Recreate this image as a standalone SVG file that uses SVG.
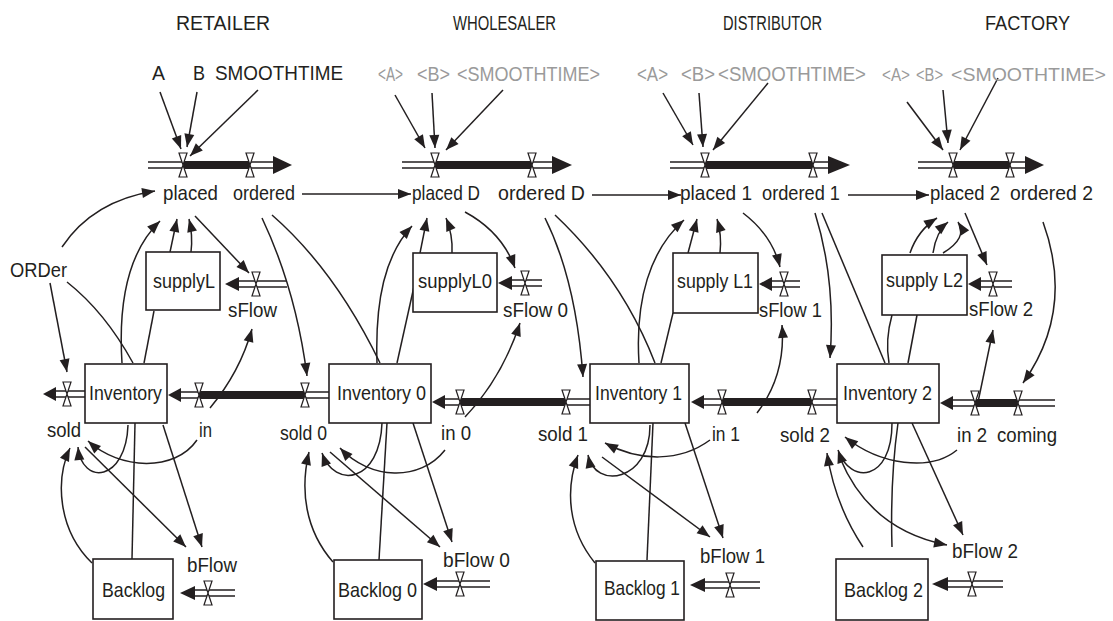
<svg xmlns="http://www.w3.org/2000/svg" xmlns:xlink="http://www.w3.org/1999/xlink" width="1113" height="621" viewBox="0 0 1113 621">
<style>
text{font-family:"Liberation Sans",Arial,sans-serif;font-size:21px;fill:#231f20}
.h{font-size:20px}
.g{fill:#9a9a9a}
.s{font-size:18px}
.box{fill:#fff;stroke:#231f20;stroke-width:1.6}
.pipe{fill:none;stroke:#231f20;stroke-width:1.4}
.thick{fill:none;stroke:#231f20;stroke-width:8}
.ph{fill:#231f20}
.c{fill:none;stroke:#231f20;stroke-width:1.5}
.a{marker-end:url(#ah)}
</style>
<defs>
<marker id="ah" markerUnits="userSpaceOnUse" markerWidth="14" markerHeight="12" refX="13" refY="5" orient="auto" overflow="visible">
<path d="M0,0 L13,5 L0,10 Z" fill="#231f20"/>
</marker>
<g id="valve"><path d="M-4,-12 L4,-12 L0,0 Z M-4,12 L4,12 L0,0 Z" fill="#fff" stroke="#231f20" stroke-width="1.2"/></g>
</defs>
<rect width="1113" height="621" fill="#fff"/>

<g id="headers">
<text class="h" x="176" y="30" textLength="94" lengthAdjust="spacingAndGlyphs">RETAILER</text>
<text class="h" x="453" y="30" textLength="103" lengthAdjust="spacingAndGlyphs">WHOLESALER</text>
<text class="h" x="723" y="30" textLength="99" lengthAdjust="spacingAndGlyphs">DISTRIBUTOR</text>
<text class="h" x="985" y="30" textLength="85" lengthAdjust="spacingAndGlyphs">FACTORY</text>
</g>

<!-- ================= CONNECTORS ================= -->
<g id="connectors">
<!-- retailer -->
<path class="c a" d="M160,92 L181,149"/>
<path class="c a" d="M197,92 L187,147"/>
<path class="c a" d="M258,90 L190,156"/>
<path class="c a" d="M62,247 C80,220 110,198 155,191"/>
<path class="c a" d="M50,283 L67,372"/>
<path class="c" d="M67,282 Q105,312 133,363"/>
<path class="c a" d="M122,363 C118,300 130,250 160,221"/>
<path class="c a" d="M170,252 L177,219"/>
<path class="c a" d="M191,252 Q193,235 189,219"/>
<path class="c" d="M154,311 L144,363"/>
<path class="c a" d="M195,216 L249,273"/>
<path class="c a" d="M210,408 Q240,372 252,329"/>
<path class="c a" d="M128,425 C126,482 82,486 78,447"/>
<path class="c a" d="M92,563 C58,530 55,480 70,448"/>
<path class="c a" d="M197,440 C175,472 120,470 88,441"/>
<path class="c a" d="M85,447 L186,547"/>
<path class="c a" d="M163,425 L202,547"/>
<path class="c" d="M132,559 L135,423"/>
<path class="c a" d="M262,218 Q296,290 307,376"/>
<path class="c" d="M272,215 Q335,270 380,363"/>
<path class="c a" d="M302,194 L411,194"/>
<!-- wholesaler -->
<path class="c a" d="M395,95 L425,148"/>
<path class="c a" d="M432,93 L435,148"/>
<path class="c a" d="M503,90 L446,150"/>
<path class="c a" d="M377,363 C375,300 385,255 412,226"/>
<path class="c a" d="M420,253 L427,218"/>
<path class="c a" d="M452,253 Q453,235 446,218"/>
<path class="c" d="M397,363 L415,282"/>
<path class="c a" d="M465,212 Q502,232 515,268"/>
<path class="c a" d="M465,417 Q502,378 520,323"/>
<path class="c a" d="M382,423 C380,482 335,490 322,453"/>
<path class="c a" d="M333,562 C305,530 300,490 309,452"/>
<path class="c a" d="M445,450 C420,482 370,480 340,448"/>
<path class="c a" d="M330,452 L440,547"/>
<path class="c a" d="M413,423 L452,542"/>
<path class="c" d="M379,560 L387,423"/>
<path class="c a" d="M545,218 Q576,280 583,377"/>
<path class="c" d="M555,215 Q622,278 655,363"/>
<path class="c a" d="M592,195 L681,195"/>
<!-- distributor -->
<path class="c a" d="M663,93 L693,145"/>
<path class="c a" d="M699,93 L703,147"/>
<path class="c a" d="M768,83 L713,150"/>
<path class="c a" d="M639,363 C635,300 650,250 684,220"/>
<path class="c a" d="M688,253 L697,219"/>
<path class="c a" d="M720,253 Q722,235 717,219"/>
<path class="c" d="M661,363 L673,313"/>
<path class="c a" d="M743,213 Q772,235 780,267"/>
<path class="c a" d="M757,413 Q786,375 782,325"/>
<path class="c a" d="M650,425 C650,482 595,490 588,455"/>
<path class="c a" d="M595,563 C568,530 565,490 578,455"/>
<path class="c a" d="M710,440 C680,462 640,462 605,443"/>
<path class="c a" d="M602,457 L710,537"/>
<path class="c a" d="M685,423 L723,538"/>
<path class="c" d="M647,560 L653,423"/>
<path class="c a" d="M815,213 Q836,280 830,358"/>
<path class="c" d="M822,213 L885,363"/>
<path class="c a" d="M848,195 L929,195"/>
<!-- factory -->
<path class="c a" d="M907,102 L943,150"/>
<path class="c a" d="M943,90 L948,143"/>
<path class="c a" d="M998,78 L960,150"/>
<path class="c a" d="M910,253 Q918,230 937,218"/>
<path class="c a" d="M933,253 Q936,232 948,222"/>
<path class="c a" d="M943,253 Q968,238 958,222"/>
<path class="c" d="M889,363 Q885,340 892,315"/>
<path class="c" d="M908,363 L917,315"/>
<path class="c a" d="M965,213 L987,265"/>
<path class="c a" d="M1043,222 Q1075,310 1023,383"/>
<path class="c a" d="M977,407 L993,330"/>
<path class="c a" d="M892,423 C892,482 850,485 838,450"/>
<path class="c a" d="M863,547 Q835,505 827,453"/>
<path class="c a" d="M957,450 C930,472 880,465 845,437"/>
<path class="c a" d="M840,458 Q870,530 947,545"/>
<path class="c a" d="M912,423 L963,535"/>
<path class="c" d="M892,547 Q890,480 898,423"/>
</g>

<!-- ================= PIPES / FLOWS ================= -->
<g id="pipes">
<path class="pipe" d="M148,162 H183 M148,168 H183 M250,162 H274 M250,168 H274"/>
<path class="thick" d="M183,165 H250"/>
<polygon class="ph" points="273,156 292,165 273,174"/>
<path class="pipe" d="M402,162 H435 M402,168 H435 M532,162 H552 M532,168 H552"/>
<path class="thick" d="M435,165 H532"/>
<polygon class="ph" points="552,156 572,165 552,174"/>
<path class="pipe" d="M670,162 H705 M670,168 H705 M813,162 H828 M813,168 H828"/>
<path class="thick" d="M705,165 H813"/>
<polygon class="ph" points="828,156 850,165 828,174"/>
<path class="pipe" d="M918,162 H953 M918,168 H953 M1010,162 H1026 M1010,168 H1026"/>
<path class="thick" d="M953,165 H1010"/>
<polygon class="ph" points="1025,156 1044,165 1025,174"/>
<path class="pipe" d="M55,391 H85 M55,397 H85"/>
<polygon class="ph" points="56,387 43,394 56,401"/>
<path class="pipe" d="M179,392 H199 M179,398 H199 M305,392 H329 M305,398 H329"/>
<path class="thick" d="M199,395 H305"/>
<polygon class="ph" points="181,388 168,395 181,402"/>
<path class="pipe" d="M444,399 H460 M444,405 H460 M566,399 H590 M566,405 H590"/>
<path class="thick" d="M460,402 H566"/>
<polygon class="ph" points="445,395 432,402 445,409"/>
<path class="pipe" d="M703,399 H722 M703,405 H722 M812,399 H837 M812,405 H837"/>
<path class="thick" d="M722,402 H812"/>
<polygon class="ph" points="704,395 691,402 704,409"/>
<path class="pipe" d="M952,400 H975 M952,406 H975 M1018,400 H1055 M1018,406 H1055"/>
<path class="thick" d="M975,403 H1018"/>
<polygon class="ph" points="953,396 940,403 953,410"/>
<path class="pipe" d="M238,281 H287 M238,287 H287"/>
<polygon class="ph" points="239,277 225,284 239,291"/>
<path class="pipe" d="M511,280 H542 M511,286 H542"/>
<polygon class="ph" points="512,276 498,283 512,290"/>
<path class="pipe" d="M771,281 H800 M771,287 H800"/>
<polygon class="ph" points="772,277 759,284 772,291"/>
<path class="pipe" d="M980,281 H1012 M980,287 H1012"/>
<polygon class="ph" points="981,277 968,284 981,291"/>
<path class="pipe" d="M194,590 H235 M194,596 H235"/>
<polygon class="ph" points="195,586 180,593 195,600"/>
<path class="pipe" d="M436,581 H490 M436,587 H490"/>
<polygon class="ph" points="437,577 423,584 437,591"/>
<path class="pipe" d="M704,582 H760 M704,588 H760"/>
<polygon class="ph" points="705,578 690,585 705,592"/>
<path class="pipe" d="M947,581 H1003 M947,587 H1003"/>
<polygon class="ph" points="948,577 932,584 948,591"/>
</g>

<!-- ================= RETAILER NODES ================= -->
<g id="A"><text x="152" y="80" textLength="13" lengthAdjust="spacingAndGlyphs">A</text></g>
<g id="B"><text x="193" y="80" textLength="12" lengthAdjust="spacingAndGlyphs">B</text></g>
<g id="SMOOTHTIME"><text x="215" y="80" textLength="128" lengthAdjust="spacingAndGlyphs">SMOOTHTIME</text></g>
<g id="placed"><use href="#valve" x="183" y="165"/><text x="163" y="200" textLength="55" lengthAdjust="spacingAndGlyphs">placed</text></g>
<g id="ordered"><use href="#valve" x="250" y="165"/><text x="233" y="200" textLength="62" lengthAdjust="spacingAndGlyphs">ordered</text></g>
<g id="ORDer"><text x="10" y="277" textLength="57" lengthAdjust="spacingAndGlyphs">ORDer</text></g>
<g id="supplyL"><rect class="box" x="146" y="252" width="74" height="58"/><text x="153" y="288" textLength="62" lengthAdjust="spacingAndGlyphs">supplyL</text></g>
<g id="sFlow"><use href="#valve" x="256" y="284"/><text x="228" y="317" textLength="49" lengthAdjust="spacingAndGlyphs">sFlow</text></g>
<g id="Inventory"><rect class="box" x="85" y="364" width="82" height="59"/><text x="89" y="400" textLength="73" lengthAdjust="spacingAndGlyphs">Inventory</text></g>
<g id="sold"><use href="#valve" x="67" y="394"/><text x="47" y="437" textLength="34" lengthAdjust="spacingAndGlyphs">sold</text></g>
<g id="in"><use href="#valve" x="199" y="395"/><text x="199" y="437" textLength="13" lengthAdjust="spacingAndGlyphs">in</text></g>
<g id="bFlow"><use href="#valve" x="208" y="593"/><text x="187" y="572" textLength="50" lengthAdjust="spacingAndGlyphs">bFlow</text></g>
<g id="Backlog"><rect class="box" x="93" y="559" width="80" height="60"/><text x="102" y="597" textLength="63" lengthAdjust="spacingAndGlyphs">Backlog</text></g>

<!-- ================= WHOLESALER NODES ================= -->
<g id="A_D"><text class="g" x="378" y="81" textLength="25" lengthAdjust="spacingAndGlyphs">&lt;A&gt;</text></g>
<g id="B_D"><text class="g" x="417" y="81" textLength="33" lengthAdjust="spacingAndGlyphs">&lt;B&gt;</text></g>
<g id="SMOOTHTIME_D"><text class="g" x="457" y="81" textLength="143" lengthAdjust="spacingAndGlyphs">&lt;SMOOTHTIME&gt;</text></g>
<g id="placed_D"><use href="#valve" x="435" y="165"/><text x="412" y="200" textLength="68" lengthAdjust="spacingAndGlyphs">placed D</text></g>
<g id="ordered_D"><use href="#valve" x="532" y="165"/><text x="498" y="200" textLength="87" lengthAdjust="spacingAndGlyphs">ordered D</text></g>
<g id="supplyL0"><rect class="box" x="413" y="253" width="84" height="59"/><text x="418" y="288" textLength="74" lengthAdjust="spacingAndGlyphs">supplyL0</text></g>
<g id="sFlow_0"><use href="#valve" x="525" y="283"/><text x="503" y="317" textLength="65" lengthAdjust="spacingAndGlyphs">sFlow 0</text></g>
<g id="Inventory_0"><rect class="box" x="329" y="364" width="102" height="59"/><text x="337" y="400" textLength="89" lengthAdjust="spacingAndGlyphs">Inventory 0</text></g>
<g id="sold_0"><use href="#valve" x="305" y="395"/><text x="280" y="440" textLength="47" lengthAdjust="spacingAndGlyphs">sold 0</text></g>
<g id="in_0"><use href="#valve" x="460" y="402"/><text x="441" y="440" textLength="30" lengthAdjust="spacingAndGlyphs">in 0</text></g>
<g id="bFlow_0"><use href="#valve" x="460" y="584"/><text x="443" y="567" textLength="67" lengthAdjust="spacingAndGlyphs">bFlow 0</text></g>
<g id="Backlog_0"><rect class="box" x="334" y="560" width="88" height="59"/><text x="338" y="597" textLength="79" lengthAdjust="spacingAndGlyphs">Backlog 0</text></g>

<!-- ================= DISTRIBUTOR NODES ================= -->
<g id="A_1"><text class="g" x="637" y="81" textLength="31" lengthAdjust="spacingAndGlyphs">&lt;A&gt;</text></g>
<g id="B_1"><text class="g" x="681" y="81" textLength="34" lengthAdjust="spacingAndGlyphs">&lt;B&gt;</text></g>
<g id="SMOOTHTIME_1"><text class="g" x="718" y="81" textLength="148" lengthAdjust="spacingAndGlyphs">&lt;SMOOTHTIME&gt;</text></g>
<g id="placed_1"><use href="#valve" x="705" y="165"/><text x="680" y="200" textLength="72" lengthAdjust="spacingAndGlyphs">placed 1</text></g>
<g id="ordered_1"><use href="#valve" x="813" y="165"/><text x="762" y="200" textLength="78" lengthAdjust="spacingAndGlyphs">ordered 1</text></g>
<g id="supply_L1"><rect class="box" x="673" y="253" width="85" height="60"/><text x="677" y="288" textLength="76" lengthAdjust="spacingAndGlyphs">supply L1</text></g>
<g id="sFlow_1"><use href="#valve" x="784" y="284"/><text x="759" y="317" textLength="63" lengthAdjust="spacingAndGlyphs">sFlow 1</text></g>
<g id="Inventory_1"><rect class="box" x="590" y="364" width="99" height="59"/><text x="595" y="400" textLength="87" lengthAdjust="spacingAndGlyphs">Inventory 1</text></g>
<g id="sold_1"><use href="#valve" x="566" y="402"/><text x="538" y="441" textLength="50" lengthAdjust="spacingAndGlyphs">sold 1</text></g>
<g id="in_1"><use href="#valve" x="722" y="402"/><text x="712" y="441" textLength="28" lengthAdjust="spacingAndGlyphs">in 1</text></g>
<g id="bFlow_1"><use href="#valve" x="730" y="585"/><text x="700" y="563" textLength="65" lengthAdjust="spacingAndGlyphs">bFlow 1</text></g>
<g id="Backlog_1"><rect class="box" x="596" y="561" width="88" height="59"/><text x="604" y="595" textLength="76" lengthAdjust="spacingAndGlyphs">Backlog 1</text></g>

<!-- ================= FACTORY NODES ================= -->
<g id="A_2"><text class="g s" x="882" y="81" textLength="28" lengthAdjust="spacingAndGlyphs">&lt;A&gt;</text></g>
<g id="B_2"><text class="g s" x="916" y="81" textLength="27" lengthAdjust="spacingAndGlyphs">&lt;B&gt;</text></g>
<g id="SMOOTHTIME_2"><text class="g s" x="951" y="81" textLength="155" lengthAdjust="spacingAndGlyphs">&lt;SMOOTHTIME&gt;</text></g>
<g id="placed_2"><use href="#valve" x="953" y="165"/><text x="930" y="200" textLength="70" lengthAdjust="spacingAndGlyphs">placed 2</text></g>
<g id="ordered_2"><use href="#valve" x="1010" y="165"/><text x="1010" y="200" textLength="83" lengthAdjust="spacingAndGlyphs">ordered 2</text></g>
<g id="supply_L2"><rect class="box" x="882" y="255" width="85" height="60"/><text x="886" y="287" textLength="77" lengthAdjust="spacingAndGlyphs">supply L2</text></g>
<g id="sFlow_2"><use href="#valve" x="993" y="284"/><text x="969" y="316" textLength="64" lengthAdjust="spacingAndGlyphs">sFlow 2</text></g>
<g id="Inventory_2"><rect class="box" x="837" y="364" width="102" height="59"/><text x="843" y="400" textLength="89" lengthAdjust="spacingAndGlyphs">Inventory 2</text></g>
<g id="sold_2"><use href="#valve" x="812" y="402"/><text x="780" y="442" textLength="50" lengthAdjust="spacingAndGlyphs">sold 2</text></g>
<g id="in_2"><use href="#valve" x="975" y="403"/><text x="957" y="442" textLength="30" lengthAdjust="spacingAndGlyphs">in 2</text></g>
<g id="coming"><use href="#valve" x="1018" y="403"/><text x="997" y="442" textLength="60" lengthAdjust="spacingAndGlyphs">coming</text></g>
<g id="bFlow_2"><use href="#valve" x="972" y="584"/><text x="952" y="558" textLength="66" lengthAdjust="spacingAndGlyphs">bFlow 2</text></g>
<g id="Backlog_2"><rect class="box" x="836" y="559" width="92" height="61"/><text x="844" y="597" textLength="79" lengthAdjust="spacingAndGlyphs">Backlog 2</text></g>
</svg>
